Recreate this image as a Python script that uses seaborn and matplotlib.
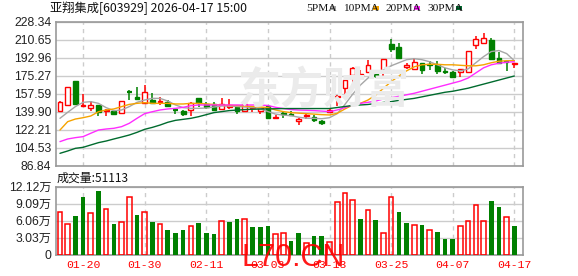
import numpy as np
import pandas as pd
import matplotlib
matplotlib.use("Agg")
import matplotlib.pyplot as plt
import seaborn as sns
from matplotlib.patches import Rectangle

# ---------------- data ----------------
opens = [140.6, 146.2, 170.1, 145.2, 143.9, 146.5, 140.6, 140.9, 138.6, 159.6,
         154.4, 148.8, 151.4, 149.4, 149.1, 141.9, 140.3, 141.9, 153.3, 147.1,
         147.1, 142.6, 145.0, 144.2, 140.9, 143.2, 140.9, 145.8, 133.4, 138.6,
         138.0, 131.1, 135.7, 135.0, 131.1, 139.3, 154.7, 162.9, 175.6, 175.0,
         179.2, 177.3, 179.2, 206.1, 203.2, 184.2, 181.5, 187.4, 186.8, 185.8,
         179.9, 179.2, 178.6, 178.6, 205.4, 207.7, 210.4, 193.0, 189.0, 186.5]
closes = [149.1, 164.2, 147.8, 146.5, 146.5, 139.3, 141.6, 137.3, 150.1, 159.0,
          152.4, 159.0, 148.1, 150.4, 145.8, 141.3, 137.3, 148.5, 148.5, 144.5,
          141.6, 147.1, 146.0, 140.6, 147.1, 144.2, 143.2, 133.4, 135.0, 137.3,
          136.7, 132.7, 136.7, 131.4, 128.8, 141.9, 155.7, 171.0, 183.2, 176.6,
          185.8, 174.7, 191.7, 201.2, 192.3, 185.8, 188.4, 180.9, 185.8, 180.2,
          178.6, 174.3, 181.9, 199.5, 211.3, 212.6, 192.0, 187.4, 188.5, 187.3]
highs = [150.0, 164.5, 170.3, 157.0, 150.4, 146.7, 142.6, 141.2, 150.5, 161.2,
         164.5, 166.2, 158.3, 154.0, 151.1, 143.9, 141.3, 149.4, 153.7, 149.1,
         149.1, 153.0, 152.4, 144.9, 148.1, 144.9, 143.4, 146.0, 136.7, 139.9,
         140.9, 134.0, 138.3, 136.7, 131.8, 142.1, 155.9, 171.2, 183.4, 180.9,
         190.7, 179.2, 191.9, 211.3, 207.1, 187.4, 192.3, 187.6, 189.7, 189.7,
         182.5, 179.9, 182.1, 199.7, 214.6, 216.9, 212.0, 198.2, 189.1, 187.4]
lows = [140.0, 146.0, 147.6, 144.5, 140.6, 136.0, 136.0, 137.0, 138.2, 151.4,
        151.1, 148.1, 147.1, 146.5, 144.9, 138.0, 136.0, 136.0, 145.0, 142.6,
        140.6, 141.6, 142.6, 137.3, 140.0, 140.0, 137.3, 133.2, 132.4, 134.0,
        135.7, 126.8, 133.1, 129.5, 126.8, 139.1, 145.5, 153.7, 168.1, 173.3,
        179.0, 172.7, 172.0, 198.9, 192.1, 181.9, 181.3, 177.0, 180.9, 177.0,
        176.6, 172.7, 173.7, 178.4, 201.5, 206.4, 191.8, 187.2, 179.9, 183.2]

ma5 = [133.4, 139.3, 144.9, 149.1, 149.8, 148.1, 143.9, 140.9, 141.6, 144.9,
       149.1, 151.4, 153.0, 153.0, 150.4, 146.5, 143.9, 143.2, 143.2, 143.5,
       144.5, 145.5, 145.5, 145.0, 144.5, 144.0, 143.0, 140.0, 137.5, 136.5,
       136.0, 134.5, 133.5, 133.4, 133.0, 134.0, 138.0, 147.0, 157.0, 166.0,
       173.0, 178.0, 181.0, 185.0, 188.0, 191.0, 192.0, 191.0, 189.0, 186.0,
       183.0, 181.0, 180.0, 182.0, 188.0, 194.0, 199.0, 200.0, 197.0, 190.0]
ma10 = [121.9, 130.1, 132.7, 134.0, 135.7, 139.9, 141.6, 142.6, 144.9, 147.1,
        148.1, 148.8, 148.1, 148.1, 148.1, 147.5, 147.5, 148.1, 148.1, 147.5,
        147.0, 146.5, 146.0, 146.0, 145.5, 145.0, 144.5, 143.9, 141.6, 140.0,
        139.0, 138.5, 138.0, 137.5, 137.0, 136.7, 138.3, 142.6, 146.5, 148.1,
        151.4, 156.3, 162.9, 169.4, 175.0, 180.0, 184.0, 186.0, 186.5, 186.5,
        186.0, 186.0, 185.5, 185.0, 185.0, 186.0, 188.0, 189.5, 190.0, 190.0]
ma20 = [110.5, 113.1, 114.4, 115.4, 118.7, 121.9, 122.9, 123.6, 125.2, 128.5,
        133.4, 138.0, 139.9, 141.6, 142.6, 143.2, 144.2, 145.8, 146.5, 146.5,
        146.5, 146.5, 146.5, 146.5, 146.5, 146.5, 146.5, 146.0, 144.2, 143.0,
        142.0, 141.5, 141.3, 141.0, 140.5, 140.0, 141.6, 143.9, 146.5, 148.1,
        149.1, 150.4, 152.4, 153.7, 155.0, 156.5, 158.0, 160.0, 162.0, 164.0,
        166.0, 168.0, 170.0, 173.0, 178.0, 183.0, 186.0, 187.5, 188.5, 189.0]
ma30 = [99.0, 101.3, 103.9, 104.9, 107.2, 109.5, 111.1, 113.1, 115.0, 117.0,
        119.6, 122.6, 124.5, 126.8, 129.5, 131.4, 132.4, 133.4, 135.0, 137.0,
        139.0, 140.0, 141.0, 141.5, 142.0, 142.3, 142.5, 142.7, 142.8, 143.0,
        143.0, 143.0, 143.0, 143.0, 143.0, 143.0, 144.0, 145.0, 146.0, 146.5,
        147.0, 148.0, 149.0, 149.8, 151.0, 152.0, 153.0, 154.5, 156.0, 157.5,
        159.0, 160.0, 161.5, 163.0, 165.0, 167.0, 169.0, 171.0, 173.0, 175.0]

# volume in 万 shares, and whether the bar is red (up vs. previous close)
volumes = [7.64, 5.37, 6.87, 10.27, 7.34, 11.34, 8.12, 5.43, 5.73, 10.21,
           7.04, 7.52, 5.79, 5.37, 4.30, 3.82, 4.30, 5.01, 5.61, 3.82,
           3.64, 6.06, 5.79, 6.30, 6.42, 4.87, 4.87, 5.04, 3.58, 3.76,
           2.39, 3.82, 2.12, 3.28, 3.28, 2.15, 9.31, 10.93, 9.73, 6.33,
           7.88, 6.15, 3.76, 10.21, 7.58, 5.61, 5.19, 5.25, 4.30, 4.00,
           2.75, 2.75, 5.01, 5.91, 8.78, 5.91, 9.55, 8.48, 6.63, 5.11]
vol_up = [1, 1, 0, 0, 1, 0, 1, 0, 1, 1,
          0, 1, 0, 1, 0, 0, 0, 1, 0, 0,
          0, 1, 0, 0, 1, 0, 0, 0, 1, 1,
          0, 0, 1, 0, 0, 1, 1, 1, 1, 0,
          1, 0, 1, 1, 0, 0, 1, 0, 1, 0,
          0, 0, 1, 1, 1, 1, 0, 0, 1, 0]

tick_pos = [3, 11, 19, 27, 35, 43, 51, 59]
tick_labels = ["01-20", "01-30", "02-11", "03-03", "03-13", "03-25", "04-07", "04-17"]
price_ticks = [86.84, 104.53, 122.21, 139.90, 157.59, 175.27, 192.96, 210.65, 228.34]
vol_ticks = [0, 3.03, 6.06, 9.09, 12.12]
vol_tick_labels = ["0", "3.03万", "6.06万", "9.09万", "12.12万"]
filled_up = [35]   # up candle drawn filled

title = "亚翔集成[603929] 2026-04-17 15:00"
vol_title = "成交量:51113"
ma_names = ["5PMA", "10PMA", "20PMA", "30PMA"]

# ---------------- style ----------------
sns.set_theme(style="white")
plt.rcParams["font.family"] = ["Liberation Sans", "Noto Sans CJK SC", "DejaVu Sans"]

RED = "#ff0000"
GREEN = "#008000"
MA_COLORS = ["#a6a6a6", "#f5a300", "#ff2cff", "#006b2e"]
GRID = "#cccccc"
SPINE = "#999999"
TXT = "#222222"

W, H = 578, 276
fig = plt.figure(figsize=(W / 100, H / 100), dpi=100)

def fx(px):
    return px / W

def fy(py):
    return 1 - py / H

L, R = 55.5, 522.5
ax = fig.add_axes([fx(L), fy(165.7), fx(R - L), fy(21.7) - fy(165.7)])
axv = fig.add_axes([fx(L), fy(254.5), fx(R - L), fy(186.7) - fy(254.5)])

n = len(closes)
idx = np.arange(n)
xlim = (-0.58, 60.06)

# watermark (behind the data)
fig.text(fx(238), fy(90), "东方财富", fontsize=31, color="#ebebeb",
         fontweight="bold", va="center",
         family=["Noto Sans CJK SC", "DejaVu Sans"], zorder=0)
ax.patch.set_alpha(0)

# ---- price panel ----
df_ma = pd.DataFrame({"i": np.tile(idx, 4),
                      "v": ma5 + ma10 + ma20 + ma30,
                      "ma": np.repeat(ma_names, n)})
for y in price_ticks:
    ax.axhline(y, color=GRID, lw=1, zorder=0)
for p in tick_pos:
    ax.axvline(p, color=GRID, lw=1, ls=(0, (3, 3)), zorder=0)

bw = 0.62
for i in range(n):
    o, c, h, l = opens[i], closes[i], highs[i], lows[i]
    up = c >= o
    col = RED if up else GREEN
    ax.vlines(i, l, h, color=col, lw=1.1, zorder=3)
    lo, hi = min(o, c), max(o, c)
    if hi - lo < 0.6:
        ax.hlines((o + c) / 2, i - bw / 2, i + bw / 2, color=col, lw=1.6, zorder=4)
    else:
        face = "white" if (up and i not in filled_up) else col
        ax.add_patch(Rectangle((i - bw / 2, lo), bw, hi - lo, facecolor=face,
                               edgecolor=col, lw=1.0, zorder=4))

sns.lineplot(data=df_ma, x="i", y="v", hue="ma", palette=MA_COLORS,
             hue_order=ma_names, legend=False, ax=ax, lw=1.0, zorder=5)

ax.set_xlim(*xlim)
ax.set_ylim(price_ticks[0], price_ticks[-1])
ax.set_yticks(price_ticks)
ax.set_yticklabels([f"{v:.2f}" for v in price_ticks])
ax.set_xticks([])
ax.set_xlabel("")
ax.set_ylabel("")
ax.tick_params(axis="y", length=0, pad=3, labelsize=8.7, labelcolor=TXT)
for s in ax.spines.values():
    s.set_color(SPINE)
    s.set_linewidth(1.2)

# ---- volume panel ----
for y in vol_ticks[1:]:
    axv.axhline(y, color=GRID, lw=1, zorder=0)
for p in tick_pos:
    axv.axvline(p, color=GRID, lw=1, ls=(0, (3, 3)), zorder=0)

df_v = pd.DataFrame({"i": idx, "vol": volumes, "up": vol_up})
sns.barplot(data=df_v[df_v.up == 1], x="i", y="vol", native_scale=True,
            color=RED, fill=False, width=0.6, ax=axv, linewidth=1.1, zorder=3,
            errorbar=None)
sns.barplot(data=df_v[df_v.up == 0], x="i", y="vol", native_scale=True,
            color=GREEN, width=0.6, ax=axv, linewidth=0, zorder=3,
            errorbar=None, saturation=1)
for patch in axv.patches:
    if patch.get_fill() is False:
        patch.set_edgecolor(RED)

axv.set_xlim(*xlim)
axv.set_ylim(0, 12.12)
axv.set_yticks(vol_ticks)
axv.set_yticklabels(vol_tick_labels)
axv.set_xticks(tick_pos)
axv.set_xticklabels(tick_labels)
axv.set_xlabel("")
axv.set_ylabel("")
axv.tick_params(axis="y", length=0, pad=3, labelsize=8.7, labelcolor=TXT)
axv.tick_params(axis="x", length=0, pad=4, labelsize=8.2, labelcolor=RED)
for lab in axv.get_xticklabels():
    lab.set_family(["Liberation Mono", "DejaVu Sans Mono"])
for s in axv.spines.values():
    s.set_color(SPINE)
    s.set_linewidth(1.2)

# ---- texts ----
fig.text(fx(50), fy(8.5), title, fontsize=8.8, color="#111111", va="center",
         family=["Noto Sans CJK SC", "DejaVu Sans"])
leg_x = [306, 343, 385, 427]
sq_x = [330, 373, 414, 456]
for name, x0, sx, col in zip(ma_names, leg_x, sq_x, MA_COLORS):
    fig.text(fx(x0), fy(8.8), name, fontsize=8.2, color="#111111", va="center",
             family=["Liberation Serif", "DejaVu Serif"])
    fig.patches.append(Rectangle((fx(sx), fy(10)), fx(5.5), fy(6.5) - fy(10),
                                 transform=fig.transFigure, facecolor=col,
                                 edgecolor="none", figure=fig))
fig.text(fx(57), fy(178), vol_title, fontsize=8.6, color="#111111", va="center",
         family=["Noto Sans CJK SC", "DejaVu Sans"])

fig.text(fx(242), fy(266), "L70.CN", fontsize=22, color=RED, va="baseline",
         family=["Liberation Sans", "DejaVu Sans"], alpha=0.9)

fig.savefig("out.png", dpi=100)
